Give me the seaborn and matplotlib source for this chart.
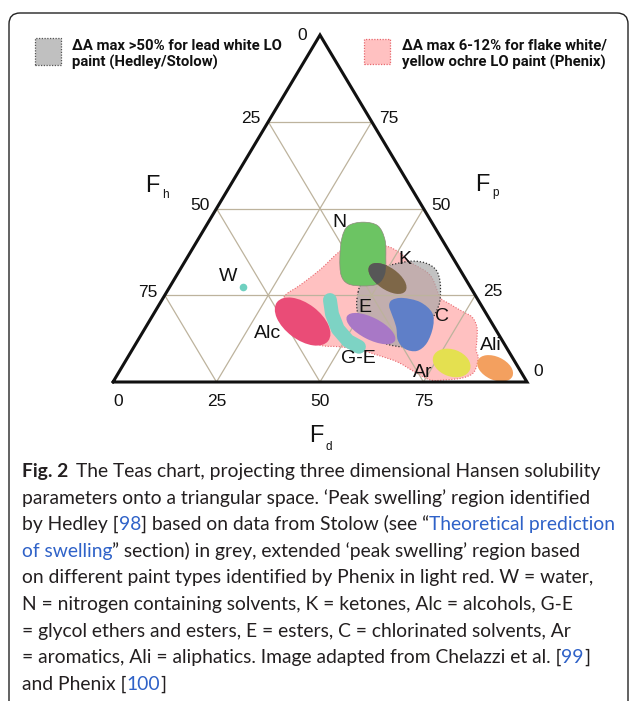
import numpy as np
import matplotlib.pyplot as plt
import seaborn as sns
from matplotlib.path import Path
from matplotlib.patches import PathPatch, Ellipse, Rectangle, FancyBboxPatch
from matplotlib.transforms import IdentityTransform

# ==================== Settings ====================
sns.set_theme(style="white")
plt.rcParams['font.family'] = ['Liberation Sans', 'DejaVu Sans']

W_PX, H_PX = 629, 701
TRI_H = 83.8          # drawn height of the triangle (base = 100)

# ==================== Data (chart units: u along base, w up) ====================
tick_fracs = [0.25, 0.5, 0.75]
left_labels = ['75', '50', '25']          # at height fractions 0.25, 0.5, 0.75
right_labels = ['25', '50', '75']
bottom_labels = ['0', '25', '50', '75']
bottom_pos = [0, 25, 50, 75]

# Phenix 'peak swelling' region (light red)
phenix_region = [(41.3, 20.5), (45.2, 23.4), (50.0, 27.1), (55.3, 31.9), (59.7, 33.1),
                 (65.7, 32.9), (69.3, 31.2), (71.7, 29.0), (76.6, 25.8), (79.0, 20.5),
                 (80.9, 19.1), (84.3, 17.1), (86.7, 15.7), (87.9, 13.3), (87.9, 10.1),
                 (87.7, 7.7), (88.2, 5.8), (87.2, 2.4), (84.5, 1.0), (80.2, 0.5),
                 (76.6, 0.5), (72.9, 2.4), (68.8, 4.8), (64.5, 6.3), (59.7, 7.7),
                 (54.8, 8.5), (50.0, 8.9), (45.2, 11.4), (41.5, 16.2)]

# Hedley/Stolow region (grey)
hedley_region = [(59.2, 21.7), (60.4, 24.6), (63.3, 27.1), (68.1, 28.5), (72.2, 29.2),
                 (75.6, 28.7), (78.0, 27.1), (79.0, 24.2), (79.0, 19.8), (78.0, 16.9),
                 (75.4, 12.6), (71.7, 8.9), (68.1, 8.7), (64.0, 10.1), (60.1, 13.8),
                 (58.9, 17.9)]

# solvent families drawn as free shapes
n_outline = [(60.4, 38.6), (64.0, 37.7), (65.7, 34.3), (65.9, 30.0), (65.7, 26.1),
             (64.0, 23.7), (60.4, 23.2), (56.8, 23.7), (55.1, 25.8), (54.8, 30.0),
             (55.3, 34.8), (56.8, 37.7)]
c_outline = [(67.4, 19.8), (70.0, 20.3), (74.2, 19.3), (77.1, 16.7), (77.3, 13.3),
             (75.8, 9.4), (73.4, 7.5), (70.5, 8.0), (68.8, 10.1), (68.4, 13.3),
             (67.4, 16.2), (66.7, 18.4)]
ge_u = [52.4, 52.9, 54.3, 56.8, 59.4]
ge_w = [19.8, 16.4, 12.8, 9.9, 8.5]

# solvent families drawn as ellipses
ell_names = ['Alc', 'E', 'Ar', 'Ali']
ell_u = [45.8, 62.3, 81.8, 92.3]
ell_w = [14.6, 12.9, 4.6, 3.3]
ell_width = [15.5, 13.0, 9.4, 9.2]
ell_height = [8.7, 5.3, 6.5, 5.6]
ell_angle = [-37, -27, -20, -25]

k_center = (66.3, 25.0)
k_size = (10.6, 5.3)
k_angle = -35

water_u, water_w = [31.3], [22.9]

label_names = ['N', 'K', 'E', 'C', 'Ar', 'Ali', 'G-E', 'Alc', 'W']
label_u = [54.8, 70.5, 60.9, 79.5, 74.9, 91.2, 59.2, 37.4, 27.8]
label_w = [38.4, 29.5, 18.1, 15.9, 2.2, 8.9, 5.6, 11.6, 25.4]

# colours
C_TRI = '#111111'
C_GRID = '#bdb39d'
C_PINK = '#ffc1c1'
C_PINK_EDGE = '#e8686e'
C_GREY = '#a5a5a5'
colors = {'N': '#6cc463', 'K': '#7e6748', 'Kdark': '#575757', 'Alc': '#ea4c77',
          'G-E': '#7dd3c4', 'E': '#a878c6', 'C': '#5f7fc8', 'Ar': '#e4e050',
          'Ali': '#f3a05f', 'W': '#6fd0c0'}
LINK = '#2f62c8'
TXT = '#231f20'


def smooth_path(pts):
    # closed Catmull-Rom curve through the outline points
    p = np.asarray(pts, float)
    n = len(p)
    verts, codes = [p[0]], [Path.MOVETO]
    for i in range(n):
        p0, p1, p2, p3 = p[i - 1], p[i], p[(i + 1) % n], p[(i + 2) % n]
        verts += [p1 + (p2 - p0) / 6, p2 - (p3 - p1) / 6, p2]
        codes += [Path.CURVE4] * 3
    verts.append(p[0])
    codes.append(Path.CLOSEPOLY)
    return Path(verts, codes)


def fx(x):
    return x / W_PX


def fy(y):
    return 1 - y / H_PX


# ==================== Figure ====================
fig = plt.figure(figsize=(W_PX / 100, H_PX / 100), dpi=100)
fig.patch.set_facecolor('white')

# rounded frame
fig.add_artist(FancyBboxPatch((9, -30), 619, 688 + 30, boxstyle='round,pad=0,rounding_size=11',
                              transform=IdentityTransform(), fc='none', ec='#222222', lw=1.0))

ax = fig.add_axes([fx(113), fy(382), 414 / W_PX, 347 / H_PX])
ax.set_xlim(0, 100)
ax.set_ylim(0, TRI_H)
ax.axis('off')

# regions
ax.add_patch(PathPatch(smooth_path(phenix_region), fc=C_PINK, ec=C_PINK_EDGE, lw=0.8,
                       ls=(0, (1, 1.5)), zorder=1))
ax.add_patch(PathPatch(smooth_path(hedley_region), fc=C_GREY, alpha=0.67, ec='none', zorder=2))
ax.add_patch(PathPatch(smooth_path(hedley_region), fc='none', ec='#333333', lw=0.9,
                       ls=(0, (1, 1.5)), zorder=2.1))

# triangular grid
for f in tick_fracs:
    a = 100 * f
    ax.plot([50 * f, 100 - 50 * f], [TRI_H * f, TRI_H * f], color=C_GRID, lw=0.9, zorder=3)
    ax.plot([a, a + 50 * (1 - f)], [0, TRI_H * (1 - f)], color=C_GRID, lw=0.9, zorder=3)
    ax.plot([a, a / 2], [0, TRI_H * f], color=C_GRID, lw=0.9, zorder=3)

# solvent shapes
n_patch = PathPatch(smooth_path(n_outline), fc=colors['N'], ec='#8c8c7a', lw=0.5, zorder=4)
ax.add_patch(n_patch)
ax.add_patch(PathPatch(smooth_path(c_outline), fc=colors['C'], ec='none', zorder=4))
for name, u, w, wd, ht, ang in zip(ell_names, ell_u, ell_w, ell_width, ell_height, ell_angle):
    ax.add_patch(Ellipse((u, w), wd, ht, angle=ang, fc=colors[name], ec='none', zorder=4))
sns.lineplot(x=ge_u, y=ge_w, sort=False, estimator=None, ax=ax, color=colors['G-E'],
             lw=10, solid_capstyle='round', zorder=4)
sns.scatterplot(x=water_u, y=water_w, ax=ax, color=colors['W'], s=30, linewidth=0, zorder=4)

ax.add_patch(Ellipse(k_center, *k_size, angle=k_angle, fc=colors['K'], ec='none', zorder=5))
k_dark = Ellipse(k_center, *k_size, angle=k_angle, fc=colors['Kdark'], ec='none', zorder=5.1)
ax.add_patch(k_dark)
k_dark.set_clip_path(n_patch)

# triangle outline
ax.plot([0, 100, 50, 0], [0, 0, TRI_H, 0], color=C_TRI, lw=2.2, zorder=6,
        solid_joinstyle='miter', clip_on=False)

# solvent labels
for name, u, w in zip(label_names, label_u, label_w):
    ax.text(u, w, name, fontsize=14, ha='center', va='center', color='#111111', zorder=7)

# tick labels
tk = dict(fontsize=12.5, color='#111111', ha='center', va='center', textcoords='offset pixels',
          annotation_clip=False)
for f, lab in zip(tick_fracs, left_labels):
    ax.annotate(lab, xy=(50 * f, TRI_H * f), xytext=(-17, 3), **tk)
for f, lab in zip(tick_fracs, right_labels):
    ax.annotate(lab, xy=(100 - 50 * f, TRI_H * f), xytext=(17.5, 3.5), **tk)
for u, lab in zip(bottom_pos, bottom_labels):
    ax.annotate(lab, xy=(u, 0), xytext=(5 if u == 0 else 0, -20), **tk)
ax.annotate('0', xy=(50, TRI_H), xytext=(-18, -1), **tk)
ax.annotate('0', xy=(100, 0), xytext=(11, 10), **tk)

# axis names
for name, sub, u, w, sx, sy in [('F', 'h', 7.7, 45.9, 17, -6), ('F', 'p', 87.4, 46.1, 17, -5),
                                ('F', 'd', 47.3, -14.5, 17, -8)]:
    ax.text(u, w, name, fontsize=17, ha='left', va='baseline', color='#111111')
    ax.annotate(sub, xy=(u, w), xytext=(sx, sy), textcoords='offset pixels', fontsize=8.5,
                ha='left', va='baseline', color='#111111', annotation_clip=False)

# ==================== Legend ====================
fig.add_artist(Rectangle((fx(35), fy(65)), fx(26), 27 / H_PX, fc='#c0c0c0', ec='#555555',
                         lw=0.9, ls=(0, (1, 1.2))))
fig.add_artist(Rectangle((fx(364), fy(64)), fx(26), 25 / H_PX, fc=C_PINK, ec=C_PINK_EDGE,
                         lw=0.9, ls=(0, (1, 1.2))))

renderer = fig.canvas.get_renderer()


def fit_size(text, target, **kw):
    t = fig.text(0, 0, text, fontsize=10, **kw)
    w = t.get_window_extent(renderer).width
    t.remove()
    return 10 * target / w


LEG_FONT = dict(family=['Roboto', 'DejaVu Sans'], fontweight='bold')
leg_size = fit_size('ΔA max >50% for lead white LO', 210, **LEG_FONT)
for x, lines in [(72, ['ΔA max >50% for lead white LO', 'paint (Hedley/Stolow)']),
                 (402, ['ΔA max 6-12% for flake white/', 'yellow ochre LO paint (Phenix)'])]:
    for i, line in enumerate(lines):
        fig.text(fx(x), fy(49.5 + 17.5 * i), line, fontsize=leg_size, va='baseline',
                 color='#111111', **LEG_FONT)

# ==================== Caption ====================
CAP_FONT = ['Lato', 'DejaVu Sans']
caption = [
    [('Fig. 2', 'b', TXT), ('The Teas chart, projecting three dimensional Hansen solubility', 'n', TXT)],
    [('parameters onto a triangular space. \u2018Peak swelling\u2019 region identified', 'n', TXT)],
    [('by Hedley [', 'n', TXT), ('98', 'n', LINK),
     ('] based on data from Stolow (see \u201c', 'n', TXT), ('Theoretical prediction', 'n', LINK)],
    [('of swelling', 'n', LINK),
     ('\u201d section) in grey, extended \u2018peak swelling\u2019 region based', 'n', TXT)],
    [('on different paint types identified by Phenix in light red. W = water,', 'n', TXT)],
    [('N = nitrogen containing solvents, K = ketones, Alc = alcohols, G-E', 'n', TXT)],
    [('= glycol ethers and esters, E = esters, C = chlorinated solvents, Ar', 'n', TXT)],
    [('= aromatics, Ali = aliphatics. Image adapted from Chelazzi et al. [', 'n', TXT),
     ('99', 'n', LINK), (']', 'n', TXT)],
    [('and Phenix [', 'n', TXT), ('100', 'n', LINK), (']', 'n', TXT)],
]
cap_size = fit_size('by Hedley [98] based on data from Stolow (see \u201cTheoretical prediction',
                    595, family=CAP_FONT)
for i, segs in enumerate(caption):
    x = 22.0
    y = 477 + 26.6 * i
    for j, (txt, wt, col) in enumerate(segs):
        t = fig.text(fx(x), fy(y), txt, fontsize=cap_size, family=CAP_FONT, va='baseline',
                     color=col, fontweight='bold' if wt == 'b' else 'normal')
        x += t.get_window_extent(renderer).width
        if wt == 'b':
            x += 8

fig.savefig('out.png', dpi=100)
